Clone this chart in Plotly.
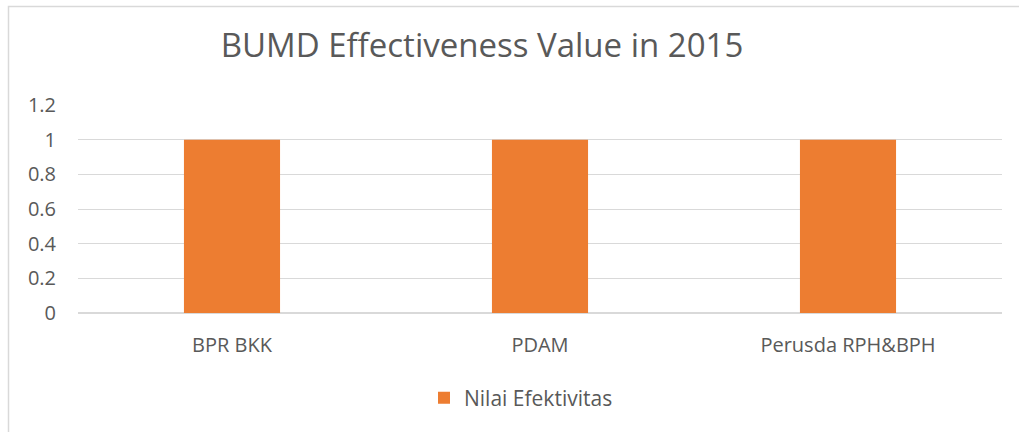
import plotly.graph_objects as go

categories = ["BPR BKK", "PDAM", "Perusda RPH&BPH"]
values = [1, 1, 1]
series_name = "Nilai Efektivitas"
y_ticks = [0, 0.2, 0.4, 0.6, 0.8, 1, 1.2]
y_tick_labels = ["0", "0.2", "0.4", "0.6", "0.8", "1", "1.2"]

W, H = 1019, 432
L, R, T, B = 78, 17, 105, 119
pw, ph = W - L - R, H - T - B

def px_x(p):
    return (p - L) / pw

def px_y(p):
    return (H - B - p) / ph

font_fam = "Open Sans, Noto Sans, sans-serif"
gray = "#595959"

fig = go.Figure(go.Bar(
    x=categories, y=values, name=series_name,
    marker=dict(color="#ED7D31", line=dict(width=0)),
    showlegend=True,
))

fig.update_layout(
    width=W, height=H,
    margin=dict(l=L, r=R, t=T, b=B),
    paper_bgcolor="white", plot_bgcolor="white",
    bargap=0.688,
    title=dict(text="BUMD Effectiveness Value in 2015", x=482 / W, xanchor="center",
               y=1 - 45 / H, yanchor="middle",
               font=dict(family=font_fam, size=33, color=gray)),
    font=dict(family=font_fam, size=20, color=gray),
    xaxis=dict(showgrid=False, showline=False, ticks="", ticklabelstandoff=18,
               tickfont=dict(size=20, color=gray)),
    yaxis=dict(range=[0, 1.2], tickvals=y_ticks, ticktext=y_tick_labels,
               showgrid=True, gridcolor="#d9d9d9", gridwidth=1,
               zeroline=True, zerolinecolor="#d9d9d9", zerolinewidth=1.5,
               showline=False, ticks="", ticklen=0, ticklabelstandoff=21,
               tickfont=dict(size=20, color=gray)),
    legend=dict(orientation="h", x=px_x(521), xanchor="center", y=px_y(398), yanchor="middle",
                font=dict(size=21, color=gray), itemwidth=30),
    shapes=[dict(type="rect", xref="paper", yref="paper",
                 x0=px_x(8.5), x1=px_x(1030), y0=px_y(6.5), y1=px_y(445),
                 line=dict(color="#d9d9d9", width=1.5), layer="below")],
)

fig.write_html("out.html", config={"displayModeBar": False},
               post_script="document.body.style.margin='0';")
